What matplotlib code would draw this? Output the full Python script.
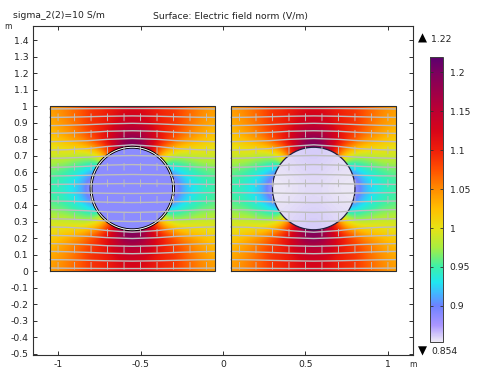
import numpy as np
import matplotlib
matplotlib.use("Agg")
import matplotlib.pyplot as plt
from matplotlib.colors import LinearSegmentedColormap, Normalize
from matplotlib.cm import ScalarMappable
from matplotlib.patches import Circle, Rectangle

plt.rcParams["font.family"] = "DejaVu Sans"
plt.rcParams["font.size"] = 6.7

# field values read off one quarter of a square
# rows: distance from mid height, columns: distance from circle centre (0 .. 0.5)
quarter_field = [
    [.880, .880, .880, .880, .880, .875, .910, .925, .935, .945, .950],
    [1.20, 1.05, .900, .880, .880, .890, .915, .930, .940, .948, .952],
    [1.20, 1.12, 1.00, .920, .900, .915, .930, .940, .950, .955, .960],
    [1.20, 1.16, 1.08, 1.00, .950, .945, .955, .960, .968, .972, .975],
    [1.20, 1.18, 1.12, 1.06, 1.005, .985, .980, .985, .988, .990, .990],
    [1.20, 1.19, 1.145, 1.09, 1.06, 1.035, 1.02, 1.012, 1.008, 1.003, 1.00],
    [1.195, 1.185, 1.15, 1.12, 1.095, 1.075, 1.055, 1.042, 1.032, 1.022, 1.015],
    [1.16, 1.155, 1.14, 1.115, 1.095, 1.085, 1.07, 1.058, 1.045, 1.035, 1.025],
    [1.14, 1.135, 1.125, 1.105, 1.095, 1.09, 1.075, 1.06, 1.05, 1.04, 1.033],
    [1.13, 1.125, 1.115, 1.10, 1.095, 1.09, 1.075, 1.065, 1.055, 1.045, 1.038],
    [1.12, 1.118, 1.11, 1.10, 1.09, 1.09, 1.075, 1.065, 1.055, 1.048, 1.04],
]
# inside of the right circle (pale, a bit darker at top and bottom)
disc_field = [
    [.858, .860, .863, .860, .858],
    [.856, .858, .860, .858, .856],
    [.854, .856, .858, .856, .854],
    [.856, .858, .860, .858, .856],
    [.858, .860, .863, .860, .858],
]
left_disc_value = .888

square_centres = [-.55, .55]
circle_radius = .25
vmin, vmax = .854, 1.22

# grey lines: height at x offset from the circle centre, upper half only
line_offsets = [0, .15, .27, .4, .5]
line_heights = [
    [.985, .985, .984, .983, .982],
    [.940, .938, .935, .932, .931],
    [.895, .892, .887, .883, .881],
    [.850, .847, .840, .836, .834],
    [.803, .798, .790, .786, .784],
    [.765, .755, .742, .735, .733],
    [.700, .697, .690, .685, .683],
    [.645, .642, .635, .630, .628],
    [.585, .583, .580, .577, .576],
    [.530, .529, .527, .526, .525],
]

arrow_x = [.1, .2, .3, .4, .5, .6, .7, .8, .9, 1.0]
arrow_y = [.03, .13, .23, .33, .43, .53, .63, .73, .83, .93]
arrow_len = .05

y_ticks = [-.5, -.4, -.3, -.2, -.1, 0, .1, .2, .3, .4, .5, .6, .7, .8, .9, 1, 1.1, 1.2, 1.3, 1.4]
x_ticks = [-1, -.5, 0, .5, 1]
cbar_ticks = [.9, .95, 1, 1.05, 1.1, 1.15, 1.2]

cmap_values = [.854, .875, .9, .915, .93, .95, .975, 1.0, 1.025, 1.05, 1.075, 1.1, 1.125, 1.15, 1.2, 1.22]
cmap_colors = ["#eeeaf6", "#aa96ff", "#6e82ff", "#44b4ff", "#20e6f0", "#3cf0aa", "#a8ee40",
               "#e8e214", "#ffbe00", "#ff8c00", "#ff5000", "#f01e0a", "#d70519", "#be0032", "#7d005f", "#5a006e"]
cmap = LinearSegmentedColormap.from_list(
    "field", [((v - vmin) / (vmax - vmin), c) for v, c in zip(cmap_values, cmap_colors)], N=512)
norm = Normalize(vmin, vmax)

W, H = 492, 370


def box(x0, y0, x1, y1):
    # pixel box (y from the top) to figure fractions
    return [x0 / W, 1 - y1 / H, (x1 - x0) / W, (y1 - y0) / H]


fig = plt.figure(figsize=(W / 100, H / 100), dpi=100)
ax = fig.add_axes(box(33, 25.5, 413.5, 355))

quarter = np.array(quarter_field)
field = np.vstack([quarter[:0:-1], quarter])
field = np.hstack([field[:, :0:-1], field])

for cx in square_centres:
    im = ax.imshow(field, extent=[cx - .525, cx + .525, -.025, 1.025], origin="lower", aspect="auto",
                   interpolation="bicubic", interpolation_stage="data", cmap=cmap, norm=norm, zorder=1)
    im.set_clip_path(Rectangle((cx - .5, 0), 1, 1, transform=ax.transData))
    ax.plot([cx - .5, cx + .5, cx + .5, cx - .5, cx - .5], [0, 0, 1, 1, 0], color="#303030", lw=.8, zorder=5)

# left circle, flat colour with double outline
cx = square_centres[0]
ax.add_patch(Circle((cx, .5), circle_radius, fc=cmap(norm(left_disc_value)), ec="black", lw=2.0, zorder=2))
ax.add_patch(Circle((cx, .5), circle_radius, fc="none", ec="white", lw=.7, zorder=2.1))

# right circle
cx = square_centres[1]
disc = ax.imshow(np.array(disc_field), extent=[cx - .25, cx + .25, .25, .75], origin="lower", aspect="auto",
                 interpolation="bicubic", interpolation_stage="data", cmap=cmap, norm=norm, zorder=2)
disc.set_clip_path(Circle((cx, .5), circle_radius, transform=ax.transData))
ax.add_patch(Circle((cx, .5), circle_radius, fc="none", ec="#202040", lw=.9, zorder=2.1))

# grey lines
lo = np.array(line_offsets)
xs = np.concatenate([-lo[:0:-1], lo])
for row in line_heights:
    r = np.array(row)
    ys = np.concatenate([r[:0:-1], r])
    for cx in square_centres:
        ax.plot(cx + xs, ys, color="#bdbdbd", lw=1.0, zorder=3)
        ax.plot(cx + xs, 1 - ys, color="#bdbdbd", lw=1.0, zorder=3)

# short arrows, the heads are barely visible at this size
for sign in (-1, 1):
    ax_x, ax_y = np.meshgrid(sign * np.array(arrow_x), arrow_y)
    ax.quiver(ax_x, ax_y, np.zeros_like(ax_x), -arrow_len * np.ones_like(ax_y), angles="xy",
              scale_units="xy", scale=1, pivot="mid", color="#bdbdbd", width=.0024,
              headwidth=1.4, headlength=2, headaxislength=2, zorder=3.5)

ax.set_xlim(-1.152, 1.155)
ax.set_ylim(-.509, 1.488)
ax.set_xticks(x_ticks)
ax.set_xticklabels([f"{v:g}" for v in x_ticks])
ax.set_yticks(y_ticks)
ax.set_yticklabels([f"{round(v, 1):g}" for v in y_ticks])
ax.tick_params(direction="in", length=3.2, width=.7, color="#303030", labelcolor="#222222",
               top=True, right=True, pad=3.5)
for s in ax.spines.values():
    s.set_linewidth(.8)
    s.set_color("#303030")

# colour bar
cax = fig.add_axes(box(430, 56.7, 442.8, 341.7))
cb = fig.colorbar(ScalarMappable(norm=norm, cmap=cmap), cax=cax)
cb.set_ticks(cbar_ticks)
cb.set_ticklabels([f"{v:g}" for v in cbar_ticks])
cax.tick_params(direction="in", length=2, width=.6, color="#303030", left=True, right=True,
                labelcolor="#222222", pad=5)
cb.outline.set_linewidth(.7)
cb.outline.set_edgecolor("#404040")


def px_text(x, y, s, **kw):
    fig.text(x / W, 1 - y / H, s, va="center", color="#222222", **kw)


px_text(13, 16, "sigma_2(2)=10 S/m")
px_text(153, 16, "Surface: Electric field norm (V/m)")
px_text(4, 26.5, "m", fontsize=5.5)
px_text(409, 364.5, "m", fontsize=5.5)
px_text(431, 39, "1.22")
px_text(431, 351, "0.854")
fig.text(422.5 / W, 1 - 38.5 / H, "▲", ha="center", va="center", fontsize=8.5, color="black")
fig.text(422.5 / W, 1 - 351 / H, "▼", ha="center", va="center", fontsize=8.5, color="black")

fig.savefig("out.png", dpi=100)
